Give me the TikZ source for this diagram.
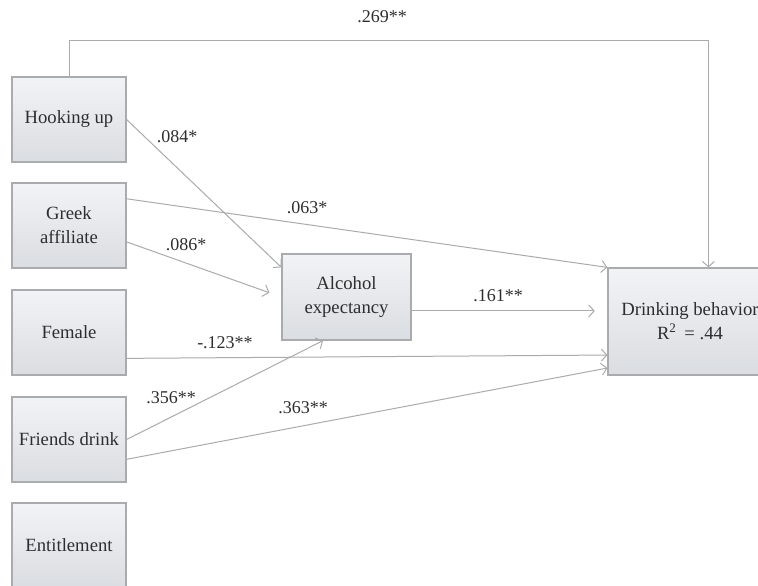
\documentclass[tikz,border=0pt]{standalone}
\usepackage{fontspec}
\setmainfont{Liberation Serif}
\usetikzlibrary{calc, positioning}
\usetikzlibrary{arrows.meta}
\definecolor{boxline}{HTML}{A9ABAE}
\definecolor{boxtop}{HTML}{F2F3F5}
\definecolor{boxbot}{HTML}{DADDE1}
\definecolor{arrline}{HTML}{ABABAB}
\definecolor{txt}{HTML}{2E2E2E}

\begin{document}
\begin{tikzpicture}[x=0.75pt, y=-0.75pt,
    var/.style={draw=boxline, line width=0.9pt, top color=boxtop, bottom color=boxbot,
        text=txt, font=\fontsize{14}{18}\selectfont, align=center, inner sep=0pt,
        minimum width=85.5pt, minimum height=63.75pt},
    link/.style={draw=arrline, line width=0.75pt, -{Straight Barb[length=4pt,width=9pt]}},
    coef/.style={text=txt, font=\fontsize{13.5}{16}\selectfont, inner sep=0pt}]
\clip (0,0) rectangle (758,586);
\fill[white] (0,0) rectangle (758,586);

\node[var] (hook) at (69,119.5) {Hooking up};
\node[var] (greek) at (69,225.5) {Greek\\affiliate};
\node[var] (female) at (69,332.5) {Female};
\node[var] (friends) at (69,439.5) {Friends drink};
\node[var] (entitle) at (69,545.5) {Entitlement};
\node[var, minimum width=96.75pt, minimum height=64.5pt] (alcohol) at (346.5,297) {Alcohol\\expectancy};
\node[var, minimum width=123pt, minimum height=80.25pt] (drink) at (690,321.5) {Drinking behavior\\R\textsuperscript{2} \,= .44};

\coordinate (fromalc) at ($(alcohol.north east)!0.66!(alcohol.south east)$);

\draw[link] (hook.north) -- ++(0,-36) -| ($(drink.north west)+(101,0)$);
\draw[link] (hook.east) -- ($(alcohol.north west)!0.16!(alcohol.south west)$);
\draw[link] ($(greek.north east)!0.19!(greek.south east)$) -- (drink.north west);
\draw[link, shorten >=9.5pt] ($(greek.north east)!0.69!(greek.south east)$) -- (alcohol.west);
\draw[link, shorten >=9.5pt] (fromalc) -- (fromalc -| drink.west);
\draw[link] ($(female.north east)!0.8!(female.south east)$) -- ($(drink.north west)!0.81!(drink.south west)$);
\draw[link] (friends.east) -- ($(alcohol.south west)!0.32!(alcohol.south east)$);
\draw[link] ($(friends.north east)!0.73!(friends.south east)$) -- ($(drink.north west)!0.93!(drink.south west)$);

\node[coef] (c269) at (382,17) {.269**};
\node[coef] (c084) at (177,137) {.084*};
\node[coef] (c063) at (307,208) {.063*};
\node[coef] (c086) at (186,245) {.086*};
\node[coef] (c161) at (498,296) {.161**};
\node[coef] (c123) at (225,343) {-.123**};
\node[coef] (c356) at (171,398) {.356**};
\node[coef] (c363) at (303,408) {.363**};
\end{tikzpicture}
\end{document}
